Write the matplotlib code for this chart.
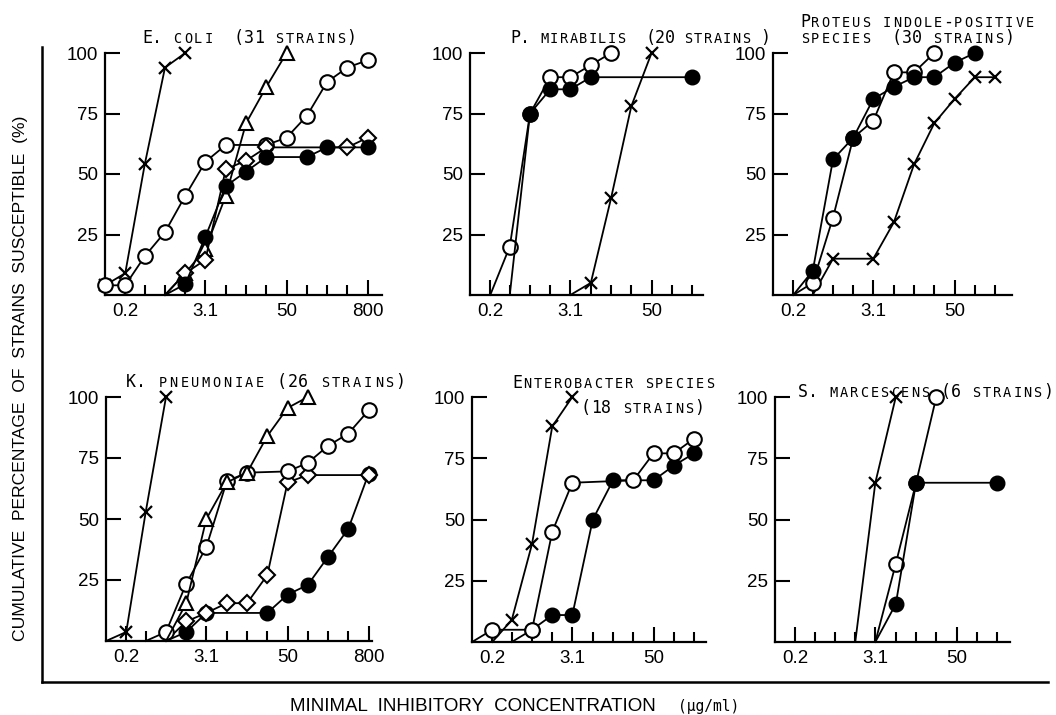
import matplotlib
matplotlib.use('Agg')
import matplotlib.pyplot as plt
from matplotlib.transforms import IdentityTransform
from matplotlib.lines import Line2D

W, H = 1056, 715
fig = plt.figure(figsize=(W / 100, H / 100), dpi=100)

# ---------------- data ----------------
CONC = [0.1, 0.2, 0.39, 0.78, 1.56, 3.1, 6.25, 12.5, 25, 50, 100, 200, 400, 800]
MAJOR = [0.2, 3.1, 50, 800]
MAJOR_LABELS = ['0.2', '3.1', '50', '800']
Y_TICKS = [25, 50, 75, 100]
Y_LABELS = ['25', '50', '75', '100']

# E. coli
ecoli_cross_c = [0.1, 0.2, 0.39, 0.78, 1.56]
ecoli_cross_p = [4, 9, 54, 94, 100]
ecoli_open_c = [0.1, 0.2, 0.39, 0.78, 1.56, 3.1, 6.25, 25, 50, 100, 200, 400, 800]
ecoli_open_p = [4, 4, 16, 26, 41, 55, 62, 62, 65, 74, 88, 94, 97]
ecoli_filled_c = [0.78, 1.56, 3.1, 6.25, 12.5, 25, 100, 200, 800]
ecoli_filled_p = [0, 4.5, 24, 45, 51, 57, 57, 61, 61]
ecoli_tri_c = [0.78, 1.56, 3.1, 6.25, 12.5, 25, 50]
ecoli_tri_p = [0, 9, 19, 41, 71, 86, 100]
ecoli_dia_c = [0.78, 1.56, 3.1, 6.25, 12.5, 25, 400, 800]
ecoli_dia_p = [0, 9, 14.5, 52, 55.5, 61, 61, 65]

# P. mirabilis
pmir_open_c = [0.2, 0.39, 0.78, 1.56, 3.1, 6.25, 12.5]
pmir_open_p = [0, 20, 75, 90, 90, 95, 100]
pmir_filled_c = [0.39, 0.78, 1.56, 3.1, 6.25, 200]
pmir_filled_p = [0, 75, 85, 85, 90, 90]
pmir_cross_c = [3.1, 6.25, 12.5, 25, 50]
pmir_cross_p = [0, 5, 40, 78, 100]

# Proteus indole-positive
pind_filled_c = [0.2, 0.39, 0.78, 1.56, 3.1, 6.25, 12.5, 25, 50, 100]
pind_filled_p = [0, 10, 56, 65, 81, 86, 90, 90, 96, 100]
pind_open_c = [0.2, 0.39, 0.78, 1.56, 3.1, 6.25, 12.5, 25]
pind_open_p = [0, 5, 32, 65, 72, 92, 92, 100]
pind_cross_c = [0.39, 0.78, 3.1, 6.25, 12.5, 25, 50, 100, 200]
pind_cross_p = [0, 15, 15, 30, 54, 71, 81, 90, 90]

# K. pneumoniae
kpn_cross_c = [0.1, 0.2, 0.39, 0.78]
kpn_cross_p = [0, 3.7, 53, 100]
kpn_open_c = [0.39, 0.78, 1.56, 3.1, 6.25, 12.5, 50, 100, 200, 400, 800]
kpn_open_p = [0, 3.7, 23.5, 38.5, 65.5, 69, 69.5, 73, 80, 85, 94.5]
kpn_tri_c = [0.78, 1.56, 3.1, 6.25, 12.5, 25, 50, 100]
kpn_tri_p = [0, 15.5, 50, 65, 69, 84, 95.5, 100]
kpn_dia_c = [0.78, 1.56, 3.1, 6.25, 12.5, 25, 50, 100, 800]
kpn_dia_p = [0, 8, 11.5, 15.5, 15.5, 27, 65, 68, 68]
kpn_filled_c = [0.78, 1.56, 3.1, 25, 50, 100, 200, 400, 800]
kpn_filled_p = [0, 3.7, 11.5, 11.5, 19, 23, 34.5, 46, 68.5]

# Enterobacter species
ent_cross_c = [0.2, 0.39, 0.78, 1.56, 3.1]
ent_cross_p = [0, 9, 40, 88, 100]
ent_open_c = [0.1, 0.2, 0.78, 1.56, 3.1, 25, 50, 100, 200]
ent_open_p = [0, 5, 5, 45, 65, 66, 77, 77, 83]
ent_filled_c = [0.39, 0.78, 1.56, 3.1, 6.25, 12.5, 50, 100, 200]
ent_filled_p = [0, 5, 11, 11, 50, 66, 66, 72, 77]

# S. marcescens
smar_cross_c = [1.56, 3.1, 6.25]
smar_cross_p = [0, 65, 100]
smar_open_c = [3.1, 6.25, 12.5, 25]
smar_open_p = [0, 32, 65, 100]
smar_filled_c = [3.1, 6.25, 12.5, 200]
smar_filled_p = [0, 15.5, 65, 65]

# ---------------- styles ----------------
STYLE = {
    'cross': dict(marker='x', ms=9, mew=1.6, mec='k'),
    'open': dict(marker='o', ms=10.5, mfc='white', mec='k', mew=1.5),
    'filled': dict(marker='o', ms=10.5, mfc='k', mec='k', mew=1.0),
    'tri': dict(marker='^', ms=10.5, mfc='white', mec='k', mew=1.5),
    'dia': dict(marker='D', ms=8, mfc='white', mec='k', mew=1.5),
}

SANS = 'Liberation Sans'
MONO = 'DejaVu Sans Mono'
STEP_PX = 20.25  # pixels per doubling dilution

panels = [
    dict(rect=(105, 382, 295, 53),
         series=[('cross', ecoli_cross_c, ecoli_cross_p), ('open', ecoli_open_c, ecoli_open_p),
                 ('tri', ecoli_tri_c, ecoli_tri_p), ('dia', ecoli_dia_c, ecoli_dia_p),
                 ('filled', ecoli_filled_c, ecoli_filled_p)],
         title=[("E. coli  (31 strains)", 142, 43, 10.2)]),
    dict(rect=(470, 703, 295, 53),
         series=[('open', pmir_open_c, pmir_open_p), ('filled', pmir_filled_c, pmir_filled_p),
                 ('cross', pmir_cross_c, pmir_cross_p)],
         title=[("P. mirabilis  (20 strains )", 511, 43, 9.6)]),
    dict(rect=(773, 1012, 295, 53),
         series=[('cross', pind_cross_c, pind_cross_p), ('open', pind_open_c, pind_open_p),
                 ('filled', pind_filled_c, pind_filled_p)],
         title=[("Proteus indole-positive", 800, 27, 10.2),
                ("species  (30 strains)", 800, 43, 10.2)]),
    dict(rect=(106, 372, 641, 397),
         series=[('cross', kpn_cross_c, kpn_cross_p), ('filled', kpn_filled_c, kpn_filled_p),
                 ('dia', kpn_dia_c, kpn_dia_p), ('open', kpn_open_c, kpn_open_p),
                 ('tri', kpn_tri_c, kpn_tri_p)],
         title=[("K. pneumoniae (26 strains)", 125, 387, 10.8)]),
    dict(rect=(472, 706, 642, 397),
         series=[('cross', ent_cross_c, ent_cross_p), ('filled', ent_filled_c, ent_filled_p),
                 ('open', ent_open_c, ent_open_p)],
         title=[("Enterobacter species", 512, 388, 10.15),
                ("(18 strains)", 580, 413, 10.4)]),
    dict(rect=(775, 1010, 642, 397),
         series=[('cross', smar_cross_c, smar_cross_p), ('open', smar_open_c, smar_open_p),
                 ('filled', smar_filled_c, smar_filled_p)],
         title=[("S. marcescens (6 strains)", 798, 397, 10.2)]),
]


def smallcaps(s, x0, base, pitch, big=12, small=9.8):
    """Typewriter-style title: lowercase letters drawn as small capitals on a fixed pitch."""
    for i, ch in enumerate(s):
        if ch == ' ':
            continue
        if ch.islower():
            size, ch = small, ch.upper()
        else:
            size = big
        fig.text(x0 + (i + 0.5) * pitch, H - base, ch, fontsize=size, family=MONO,
                 ha='center', va='baseline', transform=IdentityTransform())


xmin = CONC[0]
for p in panels:
    l, r, y0, y100 = p['rect']
    ax = fig.add_axes([l / W, (H - y0) / H, (r - l) / W, (y0 - y100) / H])
    ax.set_xscale('log', base=2)
    xmax = xmin * 2 ** ((r - l) / STEP_PX)
    ax.set_xticks([c for c in MAJOR if c <= xmax])
    ax.set_xticklabels([lab for c, lab in zip(MAJOR, MAJOR_LABELS) if c <= xmax])
    ax.set_xticks([c for c in CONC if c not in MAJOR and xmin < c <= xmax], minor=True)
    ax.set_yticks(Y_TICKS)
    ax.set_yticklabels(Y_LABELS)
    ax.set_xlim(xmin, xmax)
    ax.set_ylim(0, 100)
    ax.patch.set_alpha(0)
    for side in ['top', 'right']:
        ax.spines[side].set_visible(False)
    for side in ['left', 'bottom']:
        ax.spines[side].set_linewidth(1.6)
    ax.tick_params(axis='x', which='major', direction='in', length=11, width=1.5, pad=6,
                   labelsize=13.5)
    ax.tick_params(axis='x', which='minor', direction='in', length=7.5, width=1.5)
    ax.tick_params(axis='y', which='major', direction='in', length=11, width=1.5, pad=5,
                   labelsize=13.5)
    for lab in ax.get_xticklabels() + ax.get_yticklabels():
        lab.set_family(SANS)
    for kind, c, v in p['series']:
        mk = [i for i, val in enumerate(v) if val > 0]
        ax.plot(c, v, color='k', lw=1.3, markevery=mk, clip_on=False, zorder=3, **STYLE[kind])
    for (txt, x0, base, pitch) in p['title']:
        smallcaps(txt, x0, base, pitch)

# outer frame
fig.add_artist(Line2D([42, 42], [H - 47, H - 682], transform=IdentityTransform(), color='k', lw=1.8))
fig.add_artist(Line2D([42, 1048], [H - 682, H - 682], transform=IdentityTransform(), color='k', lw=1.8))

# axis labels
fig.text(21, H - 378, "CUMULATIVE  PERCENTAGE  OF  STRAINS  SUSCEPTIBLE  (%)", rotation=90,
         fontsize=12.6, family=SANS, ha='center', va='center', transform=IdentityTransform())
fig.text(290, H - 711, "MINIMAL  INHIBITORY  CONCENTRATION", fontsize=13.5, family=SANS,
         ha='left', va='baseline', transform=IdentityTransform())
fig.text(678, H - 711, "(µg/ml)", fontsize=10.5, family=MONO, ha='left', va='baseline',
         transform=IdentityTransform())

fig.savefig('out.png', dpi=100)
